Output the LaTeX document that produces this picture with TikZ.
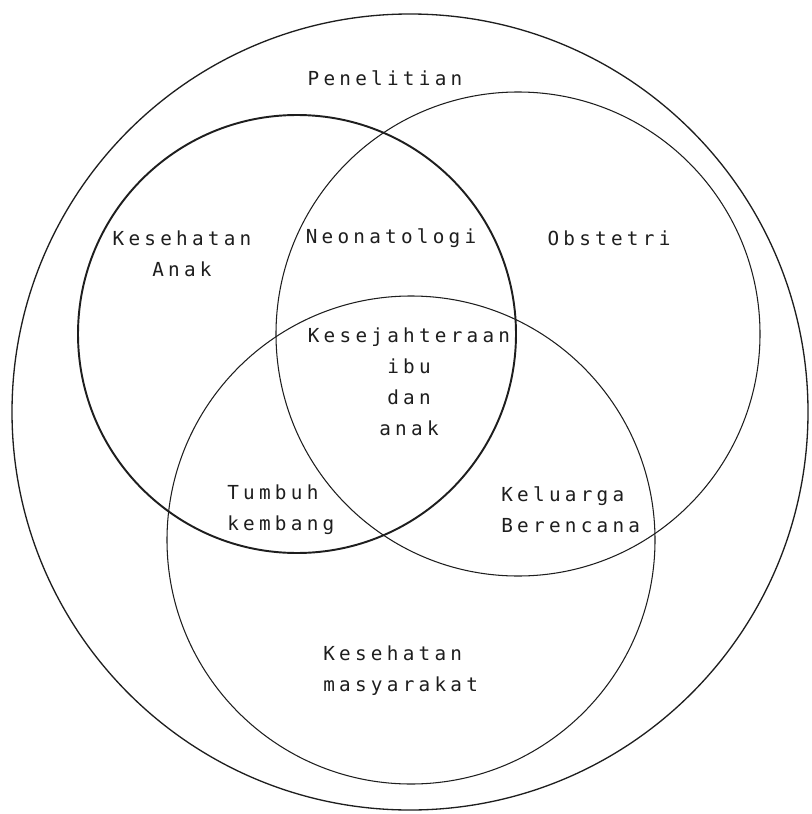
\documentclass[tikz,border=0pt]{standalone}
\usepackage{fontspec}
\usepackage{tikz}
\newfontfamily\typefont[LetterSpace=22]{DejaVu Sans Mono}
\definecolor{vink}{HTML}{1E1E1E}

\begin{document}
\begin{tikzpicture}[x=0.02cm,y=-0.02cm,line cap=round,line join=round,
  font=\typefont\fontsize{11}{17.7}\selectfont,text=vink,
  ring/.style={draw=vink,line width=0.6pt},
  boldring/.style={draw=vink,line width=1.1pt},
  lbl/.style={inner sep=0pt,align=center},
  lbll/.style={inner sep=0pt,align=left,anchor=west}]
\path[use as bounding box] (0,0) rectangle (811,814);
\fill[white] (0,0) rectangle (811,814);
\coordinate (riset) at (410,412);
\coordinate (anak) at (297,334);
\coordinate (obs) at (518,334);
\coordinate (kesmas) at (411,540);
% lingkaran
\draw[ring,line width=0.75pt] (riset) circle [radius=398];
\draw[ring] (obs) circle [radius=242];
\draw[ring] (kesmas) circle [radius=244];
\draw[boldring] (anak) circle [radius=219];
% label
\node[lbl] (penelitian) at (385,78) {Penelitian};
\node[lbl] (kesanak) at (182,254) {Kesehatan\\Anak};
\node[lbl] (neo) at (391,238) {Neonatologi};
\node[lbl] (obstetri) at (609,238) {Obstetri};
\node[lbl] (kia) at (409,382) {Kesejahteraan\\ibu\\dan\\anak};
\node[lbll] (tumbuh) at (227,510) {Tumbuh\\kembang};
\node[lbll] (kb) at (501,510) {Keluarga\\Berencana};
\node[lbll] (masy) at (323,671) {Kesehatan\\masyarakat};
\end{tikzpicture}
\end{document}
